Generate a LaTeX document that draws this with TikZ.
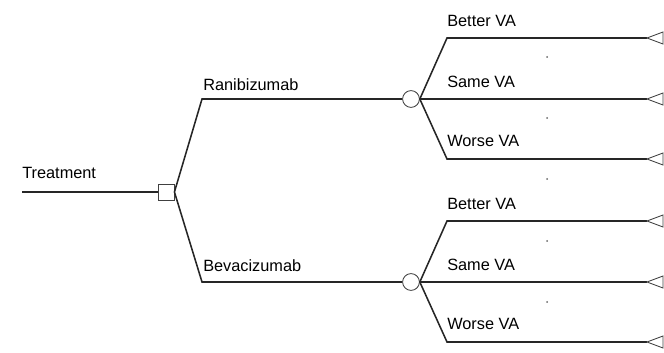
\documentclass[tikz,border=0pt]{standalone}
\usepackage{fontspec}
\setmainfont{Liberation Sans}

\tikzset{
	branch/.style = {line width = 1.1 pt, draw = black!85},
	decision/.style = {rectangle, draw = black!75, fill = white, line width = 0.6 pt, minimum size = 0.4 cm, inner sep = 0},
	chance/.style = {circle, draw = black!75, fill = white, line width = 0.6 pt, minimum size = 0.42 cm, inner sep = 0},
	terminal/.style = {draw = black!75, line width = 0.6 pt, line join = miter},
	branchlabel/.style = {anchor = base west, inner sep = 0}
}

\begin{document}
\begin{tikzpicture}[x = 0.025 cm, y = -0.025 cm, font = \fontsize{11.6}{14}\selectfont]

	\useasboundingbox (0, 0) rectangle (664, 353);

	% Decision node
	
	\coordinate (root) at (22, 192);
	\node [decision] (treat) at (166, 192) {};
	\node [branchlabel] (treatlbl) at (22, 179) {Treatment};
	\draw [branch] (root) -- (treat);
	
	% Treatment arms
	
	\coordinate (rani) at (202, 99);
	\coordinate (beva) at (202, 282);
	\node [chance] (ranic) at (411, 99) {};
	\node [chance] (bevac) at (411, 282) {};
	\node [branchlabel] (ranilbl) at (203, 91) {Ranibizumab};
	\node [branchlabel] (bevalbl) at (203, 272) {Bevacizumab};
	\draw [branch] (treat.east) -- (rani) -- (ranic);
	\draw [branch] (treat.east) -- (beva) -- (bevac);
	
	% Outcomes of each arm
	
	\foreach \arm/\y in {rani/99, beva/282} {
		\coordinate (\arm-better) at (447, \y - 61);
		\coordinate (\arm-worse) at (447, \y + 60);
		\coordinate (\arm-better-end) at (647, \y - 61);
		\coordinate (\arm-same-end) at (647, \y);
		\coordinate (\arm-worse-end) at (647, \y + 60);
		\draw [branch] (\arm c.east) -- (\arm-better) -- (\arm-better-end);
		\draw [branch] (\arm c.east) -- (\arm-same-end);
		\draw [branch] (\arm c.east) -- (\arm-worse) -- (\arm-worse-end);
		\node [branchlabel] at (447, \y - 72) {Better VA};
		\node [branchlabel] at (447, \y - 11) {Same VA};
		\node [branchlabel] at (447, \y + 48) {Worse VA};
		
		% Terminal triangles
		
		\foreach \end in {better, same, worse}
			\draw [terminal] (\arm-\end-end) -- ++(16, -6) -- ++(0, 12) -- cycle;
	}
	
	% Dots between outcomes
	
	\foreach \y in {57, 118, 179, 241, 302}
		\fill [black!60] (547, \y) circle (1);

\end{tikzpicture}
\end{document}
